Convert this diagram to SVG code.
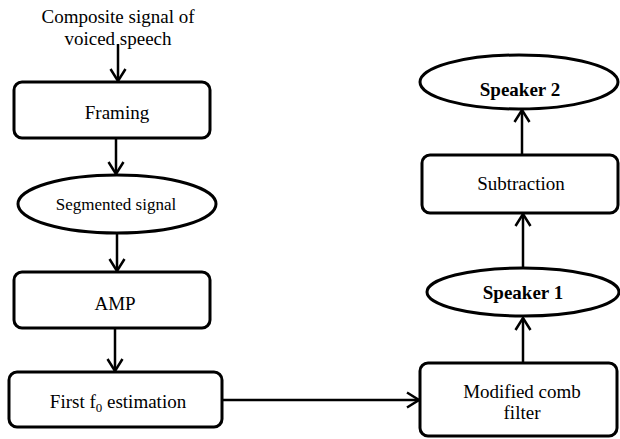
<svg xmlns="http://www.w3.org/2000/svg" width="620" height="439" viewBox="0 0 620 439">
<defs>
<style>
.box{fill:#fff;stroke:#000;stroke-width:3}
.t{font-size:19px;fill:#000;text-anchor:middle}
.s{font-size:17px}
.b{font-weight:bold}
.c{stroke:#000;stroke-width:2.5;fill:none}
</style>
<marker id="ah" viewBox="0 0 15 18" refX="13.5" refY="9" markerWidth="15" markerHeight="18" markerUnits="userSpaceOnUse" orient="auto">
<path d="M1.5,1.5 L13.5,9 L1.5,16.5" fill="none" stroke="#000" stroke-width="2.5"/>
</marker>
</defs>
<rect width="620" height="439" fill="#fff"/>
<g font-family="Liberation Serif, Times New Roman, serif">
<g id="input">
<text class="t" x="118" y="23">Composite signal of</text>
<text class="t" x="118" y="45">voiced speech</text>
</g>
<g id="connectors">
<line class="c" x1="118" y1="44" x2="118" y2="81" marker-end="url(#ah)"/>
<line class="c" x1="116" y1="139" x2="116" y2="174" marker-end="url(#ah)"/>
<line class="c" x1="117" y1="233" x2="117" y2="271" marker-end="url(#ah)"/>
<line class="c" x1="115" y1="329" x2="115" y2="371" marker-end="url(#ah)"/>
<line class="c" x1="222" y1="400" x2="419" y2="400" marker-end="url(#ah)"/>
<line class="c" x1="523" y1="362" x2="523" y2="318" marker-end="url(#ah)"/>
<line class="c" x1="523" y1="268" x2="523" y2="214" marker-end="url(#ah)"/>
<line class="c" x1="522" y1="155" x2="522" y2="110" marker-end="url(#ah)"/>
</g>
<g id="framing">
<rect class="box" x="14" y="82" width="196" height="56" rx="8"/>
<text class="t" x="117" y="119">Framing</text>
</g>
<g id="segmented">
<ellipse class="box" cx="117" cy="204" rx="99" ry="29"/>
<text class="t s" x="116" y="210">Segmented signal</text>
</g>
<g id="amp">
<rect class="box" x="14" y="272" width="196" height="56" rx="8"/>
<text class="t" x="115" y="310">AMP</text>
</g>
<g id="f0">
<rect class="box" x="9" y="372" width="213" height="55" rx="8"/>
<text class="t" x="118" y="408">First f<tspan font-size="13" dy="4">0</tspan><tspan dy="-4"> estimation</tspan></text>
</g>
<g id="comb">
<rect class="box" x="420" y="363" width="197" height="73" rx="8"/>
<text class="t" x="522" y="398">Modified comb</text>
<text class="t" x="522" y="419">filter</text>
</g>
<g id="speaker1">
<ellipse class="box" cx="523" cy="292" rx="96" ry="24"/>
<text class="t b" x="523" y="299">Speaker 1</text>
</g>
<g id="subtraction">
<rect class="box" x="422" y="155" width="196" height="58" rx="8"/>
<text class="t" x="521" y="190">Subtraction</text>
</g>
<g id="speaker2">
<ellipse class="box" cx="519" cy="82" rx="99" ry="27"/>
<text class="t b" x="520" y="96">Speaker 2</text>
</g>
</g>
</svg>
